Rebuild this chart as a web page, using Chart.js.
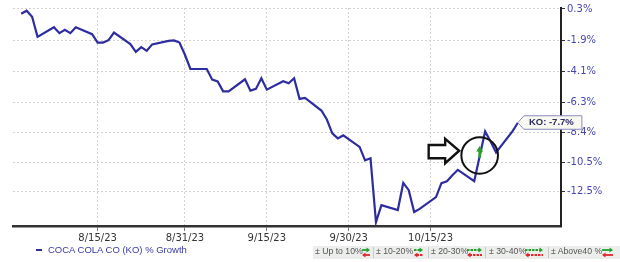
<!DOCTYPE html>
<html><head><meta charset="utf-8">
<script src="https://cdn.jsdelivr.net/npm/chart.js@4.4.0/dist/chart.umd.min.js"></script>
<style>
html,body{margin:0;padding:0;background:#fff;}
#wrap{position:relative;width:620px;height:262px;overflow:hidden;}
#c{position:absolute;left:0;top:0;}
#leg{position:absolute;left:36px;top:244px;height:12px;line-height:12px;font:9.5px "Liberation Sans",Arial,sans-serif;color:#3a3aa8;white-space:nowrap;}
#leg i{display:inline-block;width:6px;height:2px;background:#2d2d9f;vertical-align:middle;margin-right:6px;}
#key{position:absolute;left:313px;top:246px;width:307px;height:13px;background:#eceeec;}
#key span{position:absolute;top:0;height:13px;line-height:13px;font:8.7px "Liberation Sans",Arial,sans-serif;color:#555;white-space:nowrap;}
#key b{position:absolute;top:1px;width:1px;height:11px;background:#c8c8c8;}
#arr{position:absolute;left:313px;top:246px;}
</style></head>
<body><div id="wrap">
<canvas id="c" width="620" height="262"></canvas>
<div id="leg"><i></i><span id="legtxt"></span></div>
<div id="key"></div>
<svg id="arr" width="307" height="13"></svg>
</div>
<script>
// ---- data ----
const datesAug = ['2023-08-01','2023-08-02','2023-08-03','2023-08-04','2023-08-07','2023-08-08','2023-08-09','2023-08-10','2023-08-11','2023-08-14','2023-08-15','2023-08-16','2023-08-17','2023-08-18','2023-08-21','2023-08-22','2023-08-23','2023-08-24','2023-08-25','2023-08-28','2023-08-29','2023-08-30','2023-08-31'];
const growthAug = [-0.03,0.18,-0.24,-1.66,-0.98,-1.40,-1.17,-1.40,-0.98,-1.47,-2.06,-2.06,-1.89,-1.36,-2.17,-2.71,-2.38,-2.64,-2.19,-1.94,-1.91,-2.06,-2.92];
const datesSep = ['2023-09-01','2023-09-04','2023-09-05','2023-09-06','2023-09-07','2023-09-08','2023-09-11','2023-09-12','2023-09-13','2023-09-14','2023-09-15','2023-09-18','2023-09-19','2023-09-20','2023-09-21','2023-09-22','2023-09-25','2023-09-26','2023-09-27','2023-09-28','2023-09-29'];
const growthSep = [-3.92,-3.92,-4.67,-4.79,-5.49,-5.49,-4.64,-5.44,-5.32,-4.57,-5.37,-4.78,-4.92,-4.57,-6.02,-5.95,-6.84,-7.47,-8.45,-8.80,-8.59];
const datesOct = ['2023-10-02','2023-10-03','2023-10-04','2023-10-05','2023-10-06','2023-10-09','2023-10-10','2023-10-11','2023-10-12','2023-10-13','2023-10-16','2023-10-17','2023-10-18','2023-10-19','2023-10-20','2023-10-23','2023-10-24','2023-10-25','2023-10-26','2023-10-27','2023-10-30','2023-10-31'];
const growthOct = [-9.40,-10.34,-10.20,-14.69,-13.49,-13.84,-11.93,-12.44,-13.98,-13.76,-12.93,-11.95,-11.81,-11.39,-11.01,-11.81,-10.06,-8.31,-9.01,-9.78,-8.31,-7.70];
const xTickLabels = ['8/15/23','8/31/23','9/15/23','9/30/23','10/15/23'];
const yTickValues = [0.3,-1.9,-4.1,-6.3,-8.4,-10.5,-12.5];
const seriesName = 'COCA COLA CO (KO) % Growth';
const tickerLabel = 'KO';
const keyItems = ['\u00b1 Up to 10%','\u00b1 10-20%','\u00b1 20-30%','\u00b1 30-40%','\u00b1 Above40 %'];
const calloutDate = '2023-10-24';
const calloutValue = -10.0;

// ---- helpers ----
const dayOf = s => Date.UTC(+s.slice(0,4), +s.slice(5,7)-1, +s.slice(8,10))/86400000;
const dayOfMDY = s => { const [m,d,y] = s.split('/').map(Number); return Date.UTC(2000+y, m-1, d)/86400000; };
const base = dayOfMDY(xTickLabels[0]);
const dates = [...datesAug, ...datesSep, ...datesOct];
const growth = [...growthAug, ...growthSep, ...growthOct];
const points = dates.map((d,i)=>({x: dayOf(d)-base, y: growth[i]}));
const xTickPos = xTickLabels.map(s => dayOfMDY(s)-base);

document.getElementById('legtxt').textContent = seriesName;

// key legend
const key = document.getElementById('key');
const keyX = [2, 63, 118, 176, 238];
const sepX = [60, 115, 172, 235];
keyItems.forEach((t,i)=>{ const s=document.createElement('span'); s.style.left=keyX[i]+'px'; s.textContent=t; key.appendChild(s); });
sepX.forEach(x=>{ const b=document.createElement('b'); b.style.left=x+'px'; key.appendChild(b); });
const arrowSpec = [[49,57,false],[101,110,true],[154,169,true],[212,230,true],[289,300,false]];
const svg = document.getElementById('arr');
let sv='';
arrowSpec.forEach(([a,b,dash])=>{
  const da = dash ? ' stroke-dasharray="2.5,1"' : '';
  sv += `<line x1="${a}" y1="4" x2="${b-2.5}" y2="4" stroke="#22a02a" stroke-width="1.8"${da}/>`;
  sv += `<polygon points="${b-3.5},1.5 ${b},4 ${b-3.5},6.5" fill="#22a02a"/>`;
  sv += `<line x1="${a+2.5}" y1="9" x2="${b}" y2="9" stroke="#e2262a" stroke-width="1.8"${da}/>`;
  sv += `<polygon points="${a+3.5},6.5 ${a},9 ${a+3.5},11.5" fill="#e2262a"/>`;
});
svg.innerHTML = sv;

const annot = {
  id:'annot',
  afterDraw(chart){
    const {ctx, scales:{x,y}} = chart;
    ctx.save();
    const cx = x.getPixelForValue(dayOf(calloutDate)-base);
    const cy = y.getPixelForValue(calloutValue);
    ctx.lineWidth = 2; ctx.strokeStyle = '#111';
    ctx.beginPath(); ctx.arc(cx, cy, 18.3, 0, Math.PI*2); ctx.stroke();
    ctx.beginPath();
    ctx.moveTo(cx-51, cy-10.5); ctx.lineTo(cx-34.5, cy-10.5); ctx.lineTo(cx-34.5, cy-16.7);
    ctx.lineTo(cx-20.5, cy-4.7); ctx.lineTo(cx-34.5, cy+7.8); ctx.lineTo(cx-34.5, cy+2.8);
    ctx.lineTo(cx-51, cy+2.8); ctx.closePath();
    ctx.fillStyle='#fff'; ctx.fill(); ctx.lineWidth=2.4; ctx.stroke();
    ctx.fillStyle = '#2e9b2e';
    ctx.beginPath(); ctx.moveTo(cx, cy-9.5); ctx.lineTo(cx+3.5, cy-4); ctx.lineTo(cx-3.5, cy-4); ctx.closePath(); ctx.fill();
    ctx.fillRect(cx-1.3, cy-4.5, 2.6, 7);
    const lp = points[points.length-1];
    const tx = x.getPixelForValue(lp.x), ty = y.getPixelForValue(lp.y);
    ctx.beginPath();
    ctx.moveTo(tx, ty); ctx.lineTo(tx+6, ty-7); ctx.lineTo(tx+64, ty-7); ctx.lineTo(tx+64, ty+6.5);
    ctx.lineTo(tx+6, ty+6.5); ctx.closePath();
    ctx.fillStyle='#f9f9f1'; ctx.fill(); ctx.lineWidth=1; ctx.strokeStyle='#8c8cc0'; ctx.stroke();
    ctx.fillStyle='#2b2b66'; ctx.font='bold 9.5px "Liberation Sans", Arial, sans-serif';
    ctx.textBaseline='middle'; ctx.textAlign='left';
    ctx.fillText(tickerLabel+': '+lp.y.toFixed(1)+'%', tx+11, ty);
    ctx.restore();
  }
};

new Chart(document.getElementById('c'), {
  type:'line',
  data:{datasets:[{label:seriesName, data:points, borderColor:'#2d2d9f', borderWidth:2.2, pointRadius:0, tension:0, fill:false}]},
  options:{
    responsive:false, animation:false,
    layout:{padding:{left:13, top:7, right:0, bottom:0}},
    plugins:{legend:{display:false}, tooltip:{enabled:false}},
    scales:{
      x:{type:'linear', min:-15.5, max:84.9,
        afterBuildTicks:s=>{ s.ticks = xTickPos.map(v=>({value:v})); },
        afterFit:s=>{ s.height = 36; },
        grid:{color:'#d2d2d2', lineWidth:1, tickLength:5, tickColor:'#777', tickBorderDash:[]},
        border:{display:true, color:'#333', width:2.5, dash:[2,2]},
        ticks:{callback:(v,i)=>xTickLabels[i], autoSkip:false, maxRotation:0, padding:1, color:'#333',
          font:{family:'"DejaVu Sans", Verdana, sans-serif', size:10}}
      },
      y:{position:'right', min:-14.96, max:0.37,
        afterBuildTicks:s=>{ s.ticks = yTickValues.map(v=>({value:v})); },
        afterFit:s=>{ s.width = 59; },
        grid:{color:'#d2d2d2', lineWidth:1, tickLength:4, tickColor:'#333', tickBorderDash:[]},
        border:{display:true, color:'#222', width:2, dash:[2,2]},
        ticks:{callback:(v,i)=>yTickValues[i].toFixed(1)+'%', padding:2, color:'#4646b0',
          font:{family:'"DejaVu Sans", Verdana, sans-serif', size:10}}
      }
    }
  },
  plugins:[annot]
});
</script>
</body></html>
